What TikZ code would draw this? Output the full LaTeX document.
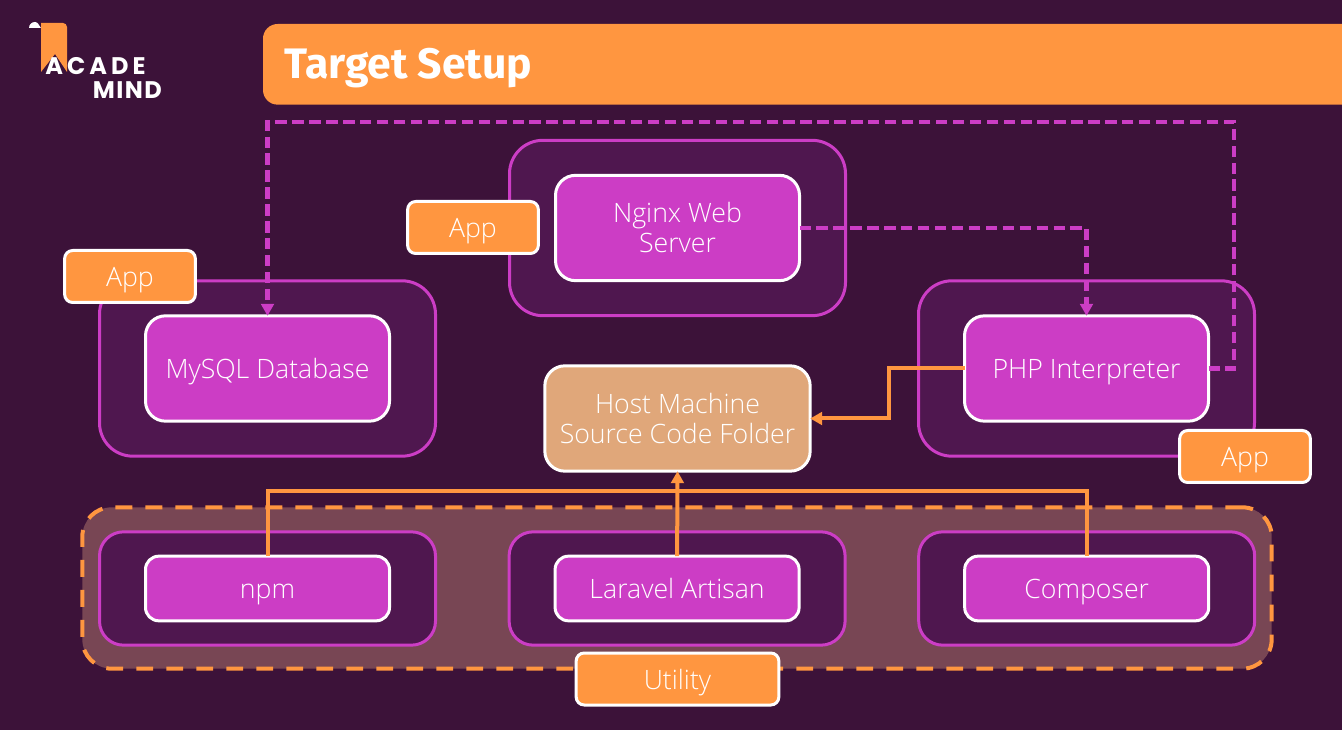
\documentclass[tikz,border=0pt]{standalone}
\usepackage{fontspec}
\setmainfont{Open Sans}[UprightFont=* Light,BoldFont=* Bold]
\newfontfamily\titlefont{Fira Sans}[UprightFont=* Bold]
\newfontfamily\logofont{Poppins}[UprightFont=* Bold,LetterSpace=6]
\newfontfamily\logowide{Poppins}[UprightFont=* Bold,LetterSpace=17]
\usepackage{xcolor}
\usetikzlibrary{positioning,arrows.meta}
\definecolor{bgdark}{HTML}{3C1239}
\definecolor{panefill}{HTML}{4F174F}
\definecolor{purple}{HTML}{CC3DC5}
\definecolor{accent}{HTML}{FF9640}
\definecolor{hostfill}{HTML}{E0A77A}
\definecolor{utilfill}{HTML}{784654}

\begin{document}
\begin{tikzpicture}[
    x=0.75pt, y=-0.75pt,
    node distance=55.2pt,
    pane/.style={rectangle, draw=purple, fill=panefill, line width=2.25pt, rounded corners=25pt, outer sep=0pt, minimum width=252pt, minimum height=131.5pt},
    panelow/.style={pane, rounded corners=18pt, minimum height=85pt},
    svc/.style={rectangle, draw=white, fill=purple, line width=2.25pt, rounded corners=15pt, outer sep=0pt, minimum width=183pt, minimum height=79pt, align=center, text=white, font=\fontsize{20}{22.5}\selectfont},
    svclow/.style={svc, rounded corners=10pt, minimum height=48.5pt},
    tag/.style={rectangle, draw=white, fill=accent, line width=2.25pt, rounded corners=6pt, outer sep=0pt, minimum width=98pt, minimum height=39pt, text=white, font=\fontsize{20}{22.5}\selectfont},
    oneline/.style={text height=15pt, text depth=0pt},
    dasharrow/.style={draw=purple, line width=3.3pt, dash pattern=on 8.5pt off 4.2pt, -{Triangle[length=9pt,width=9.5pt]}},
    solidline/.style={draw=accent, line width=3pt},
    solidarrow/.style={solidline, -{Triangle[length=9pt,width=9.5pt]}}
]

\useasboundingbox (0,0) rectangle (1342,730);
\fill[bgdark] (0,0) rectangle (1342,730);

% header and logo
\node[rectangle, fill=accent, rounded corners=11pt, anchor=north west, minimum width=830pt, minimum height=60.5pt, outer sep=0pt] (header) at (263,24) {};
\node[anchor=base west, inner sep=0pt, text=white, font=\fontsize{32}{38}\titlefont] (title) at (284,79) {Target Setup};

\fill[accent] (41,23) -- (63,23) to[out=0,in=90] (67,27) -- (67,72) -- (55,54) -- (41,72) -- cycle;
\fill[white] (29,28) to[out=90,in=180] (35,22) to[out=0,in=135] (41,28) -- cycle;
\node[anchor=base west, inner sep=0pt, text=white, font=\fontsize{18}{20}\logowide] (acade) at (45,75) {ACADE};
\node[anchor=base east, inner sep=0pt, text=white, font=\fontsize{18}{20}\logofont] (mind) at (162,99) {MIND};

% utility area
\node[rectangle, fill=utilfill, draw=accent, line width=3pt, dash pattern=on 12.7pt off 9.8pt, rounded corners=22pt, outer sep=0pt, minimum width=892pt, minimum height=121pt] (utility) at (677,588) {};

% panes
\node[panelow] (npmpane) at (267.5,588.5) {};
\node[panelow, right=of npmpane] (artisanpane) {};
\node[panelow, right=of artisanpane] (composerpane) {};
\node[pane] (mysqlpane) at (267.5,368.5) {};
\node[pane] (nginxpane) at (677.5,228) {};
\node[pane] (phppane) at (1086.5,368.5) {};

% services
\node[svc, oneline] (mysql) at (mysqlpane) {MySQL Database};
\node[svc] (nginx) at (nginxpane) {Nginx Web\\Server};
\node[svc, oneline] (php) at (phppane) {PHP Interpreter};
\node[svc, fill=hostfill, minimum width=199pt] (host) at (677.5,418.5) {Host Machine\\Source Code Folder};
\node[svclow, oneline] (npm) at (npmpane) {npm};
\node[svclow, oneline] (artisan) at (artisanpane) {Laravel Artisan};
\node[svclow, oneline] (composer) at (composerpane) {Composer};

% tags
\node[tag, oneline] (mysqltag) at (130,276.5) {App};
\node[tag, oneline] (nginxtag) at (473,227.5) {App};
\node[tag, oneline] (phptag) at (1245,456.5) {App};
\node[tag, oneline, minimum width=152pt] (utiltag) at (677.5,679) {Utility};

% connectors
\coordinate (loopcorner) at (1234,122);
\draw[dasharrow] (nginx.east) -| (php.north);
\draw[dasharrow] (php.east) -| (loopcorner) -| (mysql.north);
\draw[solidarrow] (php.west) -- ++(-76,0) |- (host.east);
\draw[solidline] (npm.north) -- ++(0,-65) -| (composer.north);
\draw[solidarrow] (artisan.north) -- (host.south);

\end{tikzpicture}
\end{document}
